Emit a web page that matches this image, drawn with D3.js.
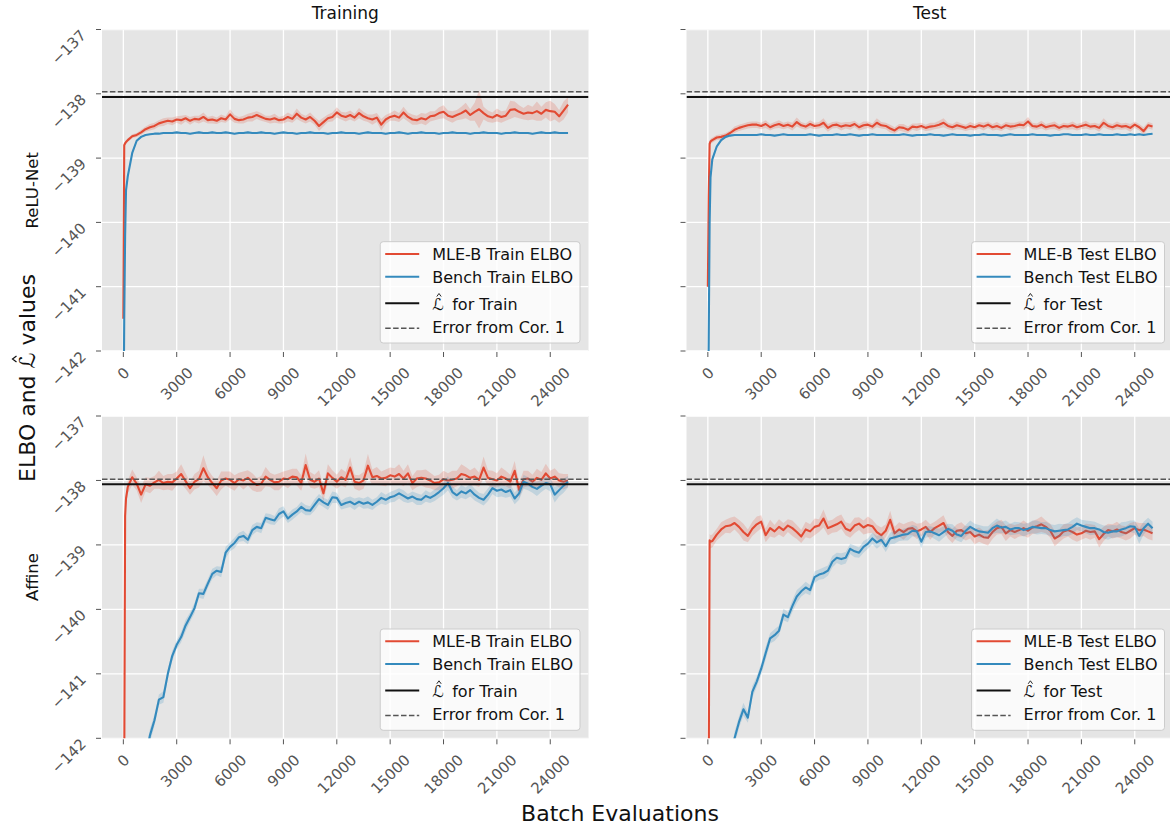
<!DOCTYPE html>
<html><head><meta charset="utf-8">
<script src="https://cdn.jsdelivr.net/npm/d3@7"></script>
<style>
body{margin:0;background:#fff}
svg{display:block}
text{font-family:"DejaVu Sans",sans-serif;white-space:pre}
</style>
</head><body>
<svg id="c" width="1170" height="828"></svg>
<script>
// ---------------- DATA ----------------
const steps = [0,50,100,150,
250,500,750,1000,1250,1500,1750,2000,2250,2500,
2750,3000,3250,3500,3750,4000,4250,4500,4750,5000,
5250,5500,5750,6000,6250,6500,6750,7000,7250,7500,
7750,8000,8250,8500,8750,9000,9250,9500,9750,10000,
10250,10500,10750,11000,11250,11500,11750,12000,12250,12500,
12750,13000,13250,13500,13750,14000,14250,14500,14750,15000,
15250,15500,15750,16000,16250,16500,16750,17000,17250,17500,
17750,18000,18250,18500,18750,19000,19250,19500,19750,20000,
20250,20500,20750,21000,21250,21500,21750,22000,22250,22500,
22750,23000,23250,23500,23750,24000,24250,24500,24750,25000];

const xTicks = [0,3000,6000,9000,12000,15000,18000,21000,24000];
const yTicks = [-142,-141,-140,-139,-138,-137];
const colTitles = ["Training","Test"];
const rowLabels = ["ReLU-Net","Affine"];

// ReLU-Net, Training
const reluTrainMle = [-141.5,-138.80,-138.77,-138.75,
-138.72,-138.66,-138.64,-138.60,-138.55,-138.52,-138.50,-138.46,-138.44,-138.42,
-138.43,-138.40,-138.41,-138.38,-138.42,-138.39,-138.40,-138.36,-138.41,-138.40,
-138.42,-138.38,-138.40,-138.32,-138.39,-138.41,-138.40,-138.37,-138.36,-138.33,
-138.36,-138.39,-138.40,-138.38,-138.41,-138.40,-138.36,-138.39,-138.31,-138.37,
-138.40,-138.36,-138.42,-138.50,-138.44,-138.38,-138.36,-138.29,-138.34,-138.36,
-138.33,-138.37,-138.30,-138.35,-138.38,-138.40,-138.37,-138.48,-138.40,-138.36,
-138.34,-138.37,-138.29,-138.36,-138.40,-138.41,-138.38,-138.40,-138.35,-138.34,
-138.30,-138.28,-138.34,-138.36,-138.33,-138.30,-138.26,-138.33,-138.28,-138.24,
-138.30,-138.35,-138.37,-138.33,-138.36,-138.34,-138.25,-138.24,-138.28,-138.31,
-138.29,-138.30,-138.27,-138.31,-138.25,-138.27,-138.28,-138.35,-138.26,-138.17];
const reluTrainMleSd = [0.05,0.04,0.03,0.03,
0.03,0.03,0.03,0.04,0.04,0.05,0.05,0.05,0.06,0.05,
0.06,0.05,0.07,0.05,0.06,0.05,0.06,0.07,0.05,0.06,
0.05,0.06,0.05,0.08,0.06,0.05,0.06,0.06,0.07,0.06,
0.06,0.05,0.06,0.07,0.05,0.06,0.07,0.06,0.08,0.06,
0.06,0.07,0.06,0.08,0.07,0.06,0.07,0.08,0.06,0.07,
0.07,0.06,0.08,0.07,0.06,0.08,0.07,0.09,0.07,0.06,
0.08,0.07,0.09,0.07,0.08,0.07,0.08,0.09,0.08,0.07,
0.09,0.10,0.08,0.09,0.08,0.10,0.12,0.09,0.14,0.30,
0.10,0.09,0.08,0.10,0.09,0.08,0.14,0.12,0.10,0.09,
0.12,0.10,0.15,0.11,0.12,0.16,0.12,0.10,0.14,0.12];
const reluTrainBench = [-143.5,-141.5,-140.2,-139.5,
-139.28,-138.92,-138.73,-138.67,-138.64,-138.63,-138.62,-138.62,-138.61,-138.61,
-138.61,-138.60,-138.61,-138.61,-138.62,-138.61,-138.60,-138.61,-138.61,-138.60,
-138.61,-138.61,-138.60,-138.61,-138.62,-138.61,-138.61,-138.60,-138.61,-138.61,
-138.60,-138.61,-138.61,-138.62,-138.61,-138.60,-138.61,-138.61,-138.62,-138.61,
-138.61,-138.60,-138.61,-138.61,-138.61,-138.62,-138.61,-138.61,-138.60,-138.61,
-138.61,-138.61,-138.62,-138.61,-138.60,-138.61,-138.61,-138.61,-138.62,-138.61,
-138.61,-138.60,-138.61,-138.62,-138.61,-138.61,-138.60,-138.61,-138.61,-138.61,
-138.62,-138.61,-138.61,-138.60,-138.61,-138.61,-138.61,-138.62,-138.61,-138.61,
-138.60,-138.61,-138.61,-138.61,-138.62,-138.61,-138.61,-138.60,-138.61,-138.61,
-138.61,-138.62,-138.61,-138.60,-138.61,-138.61,-138.60,-138.61,-138.61,-138.61];
const reluTrainBenchSd = [0.10,0.08,0.06,0.05,
0.04,0.03,0.02,0.015,0.012,0.01,0.01,0.01,0.01,0.01,
0.01,0.01,0.012,0.01,0.01,0.01,0.01,0.012,0.01,0.01,
0.01,0.01,0.01,0.012,0.01,0.01,0.01,0.01,0.01,0.012,
0.01,0.01,0.012,0.01,0.01,0.01,0.01,0.01,0.012,0.01,
0.01,0.012,0.01,0.01,0.01,0.01,0.012,0.01,0.01,0.01,
0.01,0.01,0.01,0.012,0.01,0.01,0.01,0.01,0.012,0.01,
0.012,0.01,0.01,0.01,0.01,0.012,0.01,0.01,0.01,0.01,
0.01,0.01,0.012,0.01,0.01,0.01,0.01,0.012,0.01,0.01,
0.01,0.012,0.01,0.01,0.01,0.01,0.01,0.01,0.012,0.01,
0.01,0.01,0.01,0.012,0.01,0.01,0.012,0.01,0.01,0.01];

// ReLU-Net, Test
const reluTestMle = [-141.0,-139.6,-138.78,-138.74,
-138.72,-138.68,-138.67,-138.65,-138.61,-138.56,-138.53,-138.51,-138.49,-138.48,
-138.48,-138.50,-138.47,-138.52,-138.49,-138.47,-138.50,-138.48,-138.51,-138.44,
-138.49,-138.51,-138.47,-138.50,-138.49,-138.45,-138.53,-138.49,-138.48,-138.51,
-138.49,-138.50,-138.47,-138.52,-138.49,-138.48,-138.51,-138.45,-138.49,-138.50,
-138.54,-138.57,-138.52,-138.53,-138.56,-138.51,-138.52,-138.50,-138.53,-138.51,
-138.50,-138.48,-138.45,-138.50,-138.52,-138.49,-138.51,-138.53,-138.50,-138.52,
-138.49,-138.51,-138.48,-138.52,-138.50,-138.53,-138.49,-138.51,-138.50,-138.48,
-138.49,-138.43,-138.50,-138.51,-138.48,-138.52,-138.50,-138.49,-138.53,-138.50,
-138.51,-138.49,-138.52,-138.50,-138.48,-138.51,-138.50,-138.53,-138.45,-138.50,
-138.52,-138.49,-138.51,-138.50,-138.53,-138.48,-138.52,-138.58,-138.49,-138.51];
const reluTestMleSd = [0.06,0.05,0.04,0.04,
0.04,0.04,0.04,0.04,0.04,0.05,0.05,0.05,0.05,0.05,
0.05,0.05,0.06,0.05,0.05,0.06,0.05,0.05,0.06,0.07,
0.05,0.05,0.06,0.05,0.05,0.07,0.06,0.05,0.05,0.06,
0.05,0.06,0.05,0.05,0.06,0.05,0.05,0.07,0.05,0.05,
0.06,0.05,0.05,0.06,0.05,0.05,0.06,0.05,0.05,0.06,
0.05,0.06,0.07,0.05,0.05,0.06,0.05,0.05,0.06,0.05,
0.05,0.06,0.05,0.05,0.06,0.05,0.05,0.06,0.05,0.05,
0.06,0.07,0.05,0.05,0.06,0.05,0.05,0.06,0.05,0.05,
0.05,0.06,0.05,0.05,0.06,0.05,0.05,0.06,0.07,0.05,
0.05,0.06,0.05,0.05,0.06,0.05,0.05,0.06,0.05,0.05];
const reluTestBench = [-143.5,-141.8,-140.0,-139.3,
-139.02,-138.82,-138.72,-138.67,-138.65,-138.64,-138.64,-138.64,-138.64,-138.64,
-138.64,-138.63,-138.64,-138.64,-138.65,-138.64,-138.63,-138.64,-138.64,-138.64,
-138.64,-138.64,-138.63,-138.64,-138.65,-138.64,-138.64,-138.64,-138.63,-138.64,
-138.64,-138.63,-138.64,-138.65,-138.64,-138.64,-138.63,-138.64,-138.64,-138.64,
-138.64,-138.64,-138.64,-138.63,-138.64,-138.65,-138.64,-138.64,-138.64,-138.63,
-138.64,-138.64,-138.65,-138.64,-138.63,-138.64,-138.64,-138.64,-138.65,-138.64,
-138.64,-138.63,-138.64,-138.64,-138.64,-138.65,-138.64,-138.63,-138.64,-138.64,
-138.64,-138.64,-138.63,-138.64,-138.64,-138.64,-138.65,-138.64,-138.64,-138.63,
-138.63,-138.64,-138.64,-138.64,-138.63,-138.64,-138.64,-138.63,-138.64,-138.64,
-138.64,-138.63,-138.64,-138.64,-138.63,-138.64,-138.63,-138.64,-138.63,-138.62];
const reluTestBenchSd = [0.10,0.08,0.06,0.05,
0.04,0.03,0.02,0.015,0.012,0.01,0.01,0.01,0.01,0.01,
0.01,0.01,0.01,0.012,0.01,0.01,0.01,0.01,0.01,0.01,
0.012,0.01,0.01,0.01,0.01,0.01,0.012,0.01,0.01,0.01,
0.01,0.01,0.01,0.01,0.012,0.01,0.01,0.01,0.01,0.01,
0.01,0.012,0.01,0.01,0.01,0.01,0.01,0.01,0.012,0.01,
0.01,0.01,0.01,0.01,0.01,0.012,0.01,0.01,0.01,0.01,
0.01,0.01,0.012,0.01,0.01,0.01,0.01,0.01,0.01,0.012,
0.01,0.01,0.01,0.01,0.012,0.01,0.01,0.01,0.01,0.01,
0.01,0.01,0.01,0.012,0.01,0.01,0.01,0.01,0.01,0.01,
0.012,0.01,0.01,0.01,0.01,0.01,0.012,0.01,0.01,0.01];

// Affine, Training
const affineTrainMle = [-146.0,-142.5,-138.55,-138.28,
-138.10,-137.95,-138.05,-138.22,-138.06,-138.08,-138.03,-137.99,-138.04,-138.02,
-138.03,-137.97,-137.90,-138.01,-138.12,-138.02,-137.98,-137.81,-137.95,-138.04,
-138.12,-138.00,-137.97,-137.99,-138.04,-137.98,-138.00,-137.96,-138.02,-138.07,
-138.05,-137.94,-137.99,-138.03,-138.02,-137.97,-137.98,-137.94,-137.95,-138.04,
-137.76,-137.99,-138.02,-137.97,-138.20,-137.89,-137.96,-138.02,-137.95,-137.99,
-137.80,-138.02,-138.04,-138.00,-137.77,-137.95,-137.93,-137.97,-137.96,-137.92,
-137.94,-137.90,-137.97,-137.89,-138.04,-137.97,-137.96,-137.97,-138.00,-138.04,
-138.03,-137.98,-138.00,-137.99,-137.97,-137.90,-137.92,-137.96,-137.94,-137.99,
-137.80,-137.96,-137.98,-138.00,-137.94,-137.97,-138.02,-137.85,-138.15,-137.98,
-137.97,-138.02,-137.96,-137.99,-137.89,-137.97,-137.94,-138.00,-138.02,-138.00];
const affineTrainMleSd = [0.10,0.10,0.10,0.10,
0.10,0.12,0.10,0.13,0.11,0.12,0.10,0.14,0.11,0.12,
0.13,0.11,0.15,0.12,0.10,0.12,0.13,0.20,0.12,0.11,
0.12,0.14,0.11,0.13,0.12,0.10,0.14,0.12,0.13,0.11,
0.12,0.15,0.11,0.12,0.13,0.11,0.14,0.12,0.13,0.12,
0.18,0.12,0.11,0.13,0.12,0.14,0.12,0.11,0.13,0.12,
0.16,0.11,0.12,0.13,0.18,0.12,0.14,0.11,0.13,0.12,
0.13,0.15,0.12,0.14,0.11,0.13,0.12,0.14,0.12,0.11,
0.12,0.13,0.11,0.14,0.12,0.15,0.13,0.12,0.14,0.11,
0.17,0.12,0.13,0.11,0.14,0.12,0.11,0.15,0.12,0.13,
0.12,0.11,0.14,0.12,0.15,0.12,0.13,0.11,0.12,0.10];
const affineTrainBench = [-144.5,-144.4,-144.3,-144.2,
-143.9,-143.5,-143.1,-142.7,-142.3,-141.95,-141.72,-141.40,-141.36,-141.00,
-140.72,-140.55,-140.43,-140.25,-140.12,-139.98,-139.75,-139.76,-139.60,-139.45,
-139.40,-139.42,-139.12,-139.03,-138.97,-138.88,-138.86,-138.92,-138.77,-138.72,
-138.74,-138.58,-138.60,-138.62,-138.52,-138.48,-138.59,-138.53,-138.48,-138.41,
-138.46,-138.47,-138.38,-138.29,-138.34,-138.38,-138.26,-138.27,-138.38,-138.35,
-138.33,-138.37,-138.33,-138.36,-138.34,-138.38,-138.33,-138.27,-138.30,-138.26,
-138.24,-138.20,-138.24,-138.28,-138.25,-138.29,-138.30,-138.24,-138.27,-138.23,
-138.18,-138.12,-138.04,-138.18,-138.23,-138.17,-138.20,-138.15,-138.22,-138.27,
-138.30,-138.22,-138.12,-138.16,-138.14,-138.18,-138.15,-138.28,-138.20,-138.02,
-138.05,-138.10,-138.13,-138.08,-138.04,-138.06,-138.22,-138.15,-138.08,-138.02];
const affineTrainBenchSd = [0.10,0.10,0.10,0.10,
0.10,0.10,0.10,0.10,0.10,0.10,0.09,0.08,0.09,0.08,
0.08,0.07,0.08,0.09,0.07,0.08,0.07,0.08,0.07,0.08,
0.07,0.08,0.09,0.07,0.08,0.07,0.08,0.07,0.08,0.07,
0.08,0.07,0.08,0.07,0.09,0.08,0.07,0.08,0.07,0.08,
0.08,0.07,0.09,0.08,0.07,0.08,0.09,0.08,0.07,0.08,
0.08,0.09,0.07,0.08,0.09,0.08,0.07,0.09,0.08,0.08,
0.09,0.08,0.09,0.07,0.08,0.09,0.08,0.09,0.08,0.09,
0.09,0.10,0.11,0.09,0.08,0.10,0.09,0.10,0.09,0.08,
0.09,0.10,0.09,0.10,0.11,0.09,0.10,0.09,0.10,0.11,
0.10,0.09,0.11,0.10,0.09,0.11,0.12,0.10,0.11,0.09];

// Affine, Test
const affineTestMle = [-146.0,-142.5,-138.93,-138.95,
-138.94,-138.84,-138.76,-138.71,-138.70,-138.66,-138.72,-138.80,-138.86,-138.75,
-138.68,-138.64,-138.85,-138.74,-138.79,-138.72,-138.77,-138.70,-138.74,-138.80,
-138.87,-138.76,-138.79,-138.72,-138.70,-138.59,-138.74,-138.71,-138.68,-138.64,
-138.75,-138.78,-138.70,-138.67,-138.73,-138.69,-138.71,-138.80,-138.85,-138.78,
-138.61,-138.82,-138.76,-138.80,-138.75,-138.74,-138.79,-138.76,-138.72,-138.80,
-138.74,-138.70,-138.66,-138.80,-138.86,-138.78,-138.77,-138.82,-138.80,-138.87,
-138.84,-138.88,-138.89,-138.80,-138.74,-138.72,-138.82,-138.77,-138.80,-138.77,
-138.74,-138.78,-138.73,-138.71,-138.68,-138.72,-138.78,-138.90,-138.86,-138.79,
-138.77,-138.80,-138.84,-138.82,-138.78,-138.80,-138.79,-138.91,-138.83,-138.77,
-138.79,-138.76,-138.80,-138.82,-138.78,-138.74,-138.77,-138.76,-138.79,-138.82];
const affineTestMleSd = [0.10,0.10,0.10,0.10,
0.10,0.09,0.11,0.10,0.12,0.10,0.11,0.13,0.10,0.11,
0.12,0.10,0.11,0.13,0.10,0.12,0.11,0.10,0.12,0.11,
0.10,0.12,0.11,0.13,0.10,0.14,0.11,0.10,0.12,0.11,
0.10,0.11,0.12,0.10,0.11,0.13,0.10,0.11,0.12,0.10,
0.14,0.10,0.11,0.12,0.10,0.11,0.12,0.10,0.11,0.12,
0.10,0.11,0.12,0.10,0.11,0.10,0.12,0.11,0.10,0.12,
0.11,0.10,0.12,0.11,0.10,0.11,0.12,0.10,0.11,0.10,
0.12,0.11,0.10,0.11,0.12,0.10,0.11,0.12,0.10,0.11,
0.10,0.12,0.11,0.10,0.11,0.12,0.10,0.13,0.11,0.10,
0.11,0.12,0.10,0.11,0.12,0.10,0.11,0.10,0.12,0.11];
const affineTestBench = [-144.8,-144.7,-144.6,-144.5,
-144.2,-143.8,-143.4,-143.0,-142.5,-142.0,-141.75,-141.55,-141.68,-141.28,
-141.12,-140.92,-140.68,-140.45,-140.40,-140.33,-140.08,-140.12,-139.95,-139.80,
-139.72,-139.66,-139.70,-139.50,-139.46,-139.44,-139.40,-139.26,-139.20,-139.22,
-139.20,-139.06,-139.10,-139.12,-139.03,-138.98,-138.90,-138.96,-138.92,-139.02,
-138.90,-138.88,-138.86,-138.84,-138.83,-138.78,-138.79,-138.95,-138.80,-138.79,
-138.82,-138.85,-138.80,-138.75,-138.78,-138.84,-138.86,-138.78,-138.72,-138.76,
-138.79,-138.80,-138.81,-138.74,-138.70,-138.73,-138.72,-138.76,-138.74,-138.74,
-138.77,-138.75,-138.72,-138.73,-138.74,-138.74,-138.77,-138.79,-138.78,-138.77,
-138.76,-138.72,-138.67,-138.70,-138.72,-138.74,-138.74,-138.76,-138.80,-138.81,
-138.79,-138.79,-138.76,-138.74,-138.71,-138.72,-138.86,-138.74,-138.67,-138.74];
const affineTestBenchSd = [0.10,0.10,0.10,0.10,
0.10,0.10,0.10,0.10,0.10,0.10,0.09,0.10,0.08,0.09,
0.08,0.09,0.10,0.08,0.09,0.08,0.09,0.08,0.09,0.10,
0.08,0.09,0.08,0.09,0.08,0.09,0.08,0.09,0.08,0.09,
0.09,0.08,0.09,0.08,0.09,0.08,0.09,0.10,0.08,0.09,
0.09,0.10,0.08,0.09,0.10,0.09,0.08,0.10,0.09,0.08,
0.09,0.10,0.09,0.08,0.10,0.09,0.10,0.09,0.10,0.09,
0.10,0.09,0.10,0.09,0.11,0.09,0.10,0.09,0.10,0.09,
0.10,0.09,0.10,0.11,0.09,0.10,0.09,0.10,0.11,0.09,
0.10,0.11,0.10,0.09,0.10,0.11,0.10,0.09,0.10,0.11,
0.10,0.09,0.11,0.10,0.09,0.10,0.12,0.10,0.09,0.10];

// reference levels: L-hat and L-hat + error from Cor. 1
const lhatLevels = [-138.05, -138.05, -138.06, -138.06];
const corLevels  = [-137.97, -137.97, -137.98, -137.98];

const legendTrain = ["MLE-B Train ELBO","Bench Train ELBO","for Train","Error from Cor. 1"];
const legendTest  = ["MLE-B Test ELBO","Bench Test ELBO","for Test","Error from Cor. 1"];

// ---------------- DRAWING ----------------
const svg = d3.select("#c");
const BG = "#E5E5E5", RED = "#E24A33", BLUE = "#348ABD", TICKC = "#555555";
const xDomain = [-1200, 26150], yDomain = [-142, -137];
const colX = [[102, 588.5], [686.5, 1173]];
const rowY = [[29.5, 351], [416, 738.3]];
const TF = 15; // tick font
const fmt = d3.format("d");

const panels = [
  {r:0,c:0, mle:reluTrainMle, mleSd:reluTrainMleSd, bench:reluTrainBench, benchSd:reluTrainBenchSd, lhat:lhatLevels[0], cor:corLevels[0], leg:legendTrain},
  {r:0,c:1, mle:reluTestMle, mleSd:reluTestMleSd, bench:reluTestBench, benchSd:reluTestBenchSd, lhat:lhatLevels[1], cor:corLevels[1], leg:legendTest},
  {r:1,c:0, mle:affineTrainMle, mleSd:affineTrainMleSd, bench:affineTrainBench, benchSd:affineTrainBenchSd, lhat:lhatLevels[2], cor:corLevels[2], leg:legendTrain},
  {r:1,c:1, mle:affineTestMle, mleSd:affineTestMleSd, bench:affineTestBench, benchSd:affineTestBenchSd, lhat:lhatLevels[3], cor:corLevels[3], leg:legendTest}
];

const defs = svg.append("defs");

// small circumflex accent drawn as a path
function hat(sel, cx, yBase, half, rise, sw) {
  sel.append("path")
    .attr("d", `M${cx - half},${yBase} L${cx},${yBase - rise} L${cx + half},${yBase}`)
    .attr("fill", "none").attr("stroke", "#111").attr("stroke-width", sw)
    .attr("stroke-linejoin", "miter");
}

panels.forEach((p, i) => {
  const [x0, x1] = colX[p.c], [y0, y1] = rowY[p.r];
  const x = d3.scaleLinear().domain(xDomain).range([x0, x1]);
  const y = d3.scaleLinear().domain(yDomain).range([y1, y0]);
  const g = svg.append("g");
  const cid = "clip" + i;
  defs.append("clipPath").attr("id", cid).append("rect")
    .attr("x", x0).attr("y", y0).attr("width", x1 - x0).attr("height", y1 - y0);

  g.append("rect").attr("x", x0).attr("y", y0).attr("width", x1 - x0).attr("height", y1 - y0).attr("fill", BG);

  // grid
  const grid = g.append("g").attr("clip-path", `url(#${cid})`);
  grid.selectAll(".gx").data(xTicks).join("line")
    .attr("x1", d => x(d)).attr("x2", d => x(d)).attr("y1", y0).attr("y2", y1)
    .attr("stroke", "#fff").attr("stroke-width", 1.3);
  grid.selectAll(".gy").data(yTicks).join("line")
    .attr("y1", d => y(d)).attr("y2", d => y(d)).attr("x1", x0).attr("x2", x1)
    .attr("stroke", "#fff").attr("stroke-width", 1.3);

  // tick marks
  g.selectAll(".tx").data(xTicks).join("line")
    .attr("x1", d => x(d)).attr("x2", d => x(d)).attr("y1", y1 + 1).attr("y2", y1 + 6)
    .attr("stroke", TICKC).attr("stroke-width", 1);
  g.selectAll(".ty").data(yTicks).join("line")
    .attr("y1", d => y(d)).attr("y2", d => y(d)).attr("x1", x0 - 6).attr("x2", x0 - 1)
    .attr("stroke", TICKC).attr("stroke-width", 1);

  // x tick labels (rotated 45, centred under tick)
  const h = 0.73 * TF;
  xTicks.forEach(v => {
    const t = g.append("text").text(fmt(v)).attr("font-size", TF).attr("fill", TICKC).attr("text-anchor", "middle");
    const w = t.node().getComputedTextLength();
    const half = (w + h) / (2 * Math.SQRT2);
    const cx = x(v), cy = y1 + 15 + half;
    t.attr("transform", `translate(${cx + 0.7071 * h / 2},${cy + 0.7071 * h / 2}) rotate(-45)`);
  });
  // y tick labels only in first column
  if (p.c === 0) {
    yTicks.forEach(v => {
      g.append("text").text(fmt(v)).attr("font-size", TF).attr("fill", TICKC).attr("text-anchor", "end")
        .attr("transform", `translate(${x0 - 15},${y(v) + 0.7071 * h - 1}) rotate(-45)`);
    });
  }

  const plot = g.append("g").attr("clip-path", `url(#${cid})`);
  const band = (vals, sd) => d3.area()
    .x((d, k) => x(steps[k])).y0((d, k) => y(vals[k] - sd[k])).y1((d, k) => y(vals[k] + sd[k]))(vals);
  const line = vals => d3.line().x((d, k) => x(steps[k])).y(d => y(d))(vals);

  plot.append("path").attr("d", band(p.mle, p.mleSd)).attr("fill", RED).attr("fill-opacity", 0.2);
  plot.append("path").attr("d", line(p.mle)).attr("fill", "none").attr("stroke", RED).attr("stroke-width", 2.1).attr("stroke-linejoin", "round");
  plot.append("path").attr("d", band(p.bench, p.benchSd)).attr("fill", BLUE).attr("fill-opacity", 0.2);
  plot.append("path").attr("d", line(p.bench)).attr("fill", "none").attr("stroke", BLUE).attr("stroke-width", 2.1).attr("stroke-linejoin", "round");

  plot.append("line").attr("x1", x0).attr("x2", x1).attr("y1", y(p.lhat)).attr("y2", y(p.lhat))
    .attr("stroke", "#111").attr("stroke-width", 2);
  plot.append("line").attr("x1", x0).attr("x2", x1).attr("y1", y(p.cor)).attr("y2", y(p.cor))
    .attr("stroke", "#555").attr("stroke-width", 1.5).attr("stroke-dasharray", "5.5,2.4");

  // legend
  const LF = 16;
  const lg = svg.append("g");
  const box = lg.append("rect").attr("rx", 3).attr("ry", 3)
    .attr("fill", "#fff").attr("fill-opacity", 0.8).attr("stroke", "#CCCCCC").attr("stroke-width", 1);
  const boxH = 101.3, boxT = y1 - 8 - boxH;
  const texts = [];
  const rowBase = [17.8, 41.3, 67.8, 91.3], rowLine = [12.3, 35, 61.6, 86.6];
  const handles = [{c: RED, w: 2.1, d: null}, {c: BLUE, w: 2.1, d: null}, {c: "#111", w: 2, d: null}, {c: "#555", w: 1.5, d: "5.5,2.4"}];
  let maxW = 0;
  p.leg.forEach((s, k) => {
    const t = lg.append("text").text(s).attr("font-size", LF).attr("fill", "#111").attr("y", boxT + rowBase[k]);
    texts.push(t);
    let w = t.node().getComputedTextLength();
    if (k === 2) w += 20;
    maxW = Math.max(maxW, w);
  });
  const boxW = 52 + maxW + 7;
  const boxL = x1 - 8.5 - boxW;
  box.attr("x", boxL).attr("y", boxT).attr("width", boxW).attr("height", boxH);
  texts.forEach((t, k) => t.attr("x", boxL + 52 + (k === 2 ? 20 : 0)));
  handles.forEach((hd, k) => {
    const l = lg.append("line").attr("x1", boxL + 5).attr("x2", boxL + 39)
      .attr("y1", boxT + rowLine[k]).attr("y2", boxT + rowLine[k])
      .attr("stroke", hd.c).attr("stroke-width", hd.w);
    if (hd.d) l.attr("stroke-dasharray", hd.d);
  });
  // L-hat symbol
  const tl = lg.append("text").text("ℒ").attr("font-size", LF).attr("fill", "#111")
    .attr("x", boxL + 52).attr("y", boxT + rowBase[2]);
  const wl = tl.node().getComputedTextLength();
  hat(lg, boxL + 52 + wl / 2 + 1, boxT + rowBase[2] - 13, 2.2, 3, 0.9);
});

// column titles
colTitles.forEach((s, c) => {
  svg.append("text").text(s).attr("font-size", 17).attr("fill", "#111").attr("text-anchor", "middle")
    .attr("x", (colX[c][0] + colX[c][1]) / 2).attr("y", 19);
});
// row labels
rowLabels.forEach((s, r) => {
  const cy = (rowY[r][0] + rowY[r][1]) / 2;
  svg.append("text").text(s).attr("font-size", 16.5).attr("fill", "#111").attr("text-anchor", "middle")
    .attr("transform", `translate(38,${cy}) rotate(-90)`);
});

// shared y label "ELBO and L-hat values"
{
  const FS = 22;
  const gl = svg.append("g").attr("transform", "translate(34.5,378) rotate(-90)");
  const t1 = gl.append("text").text("ELBO and\u00a0").attr("font-size", FS).attr("fill", "#111");
  const tL = gl.append("text").text("ℒ").attr("font-size", FS).attr("fill", "#111");
  const t2 = gl.append("text").text("\u00a0values").attr("font-size", FS).attr("fill", "#111");
  const w1 = t1.node().getComputedTextLength(), wL = tL.node().getComputedTextLength(), w2 = t2.node().getComputedTextLength();
  const start = -(w1 + wL + w2) / 2;
  t1.attr("x", start);
  tL.attr("x", start + w1);
  t2.attr("x", start + w1 + wL);
  hat(gl, start + w1 + wL / 2 + 1.5, -18, 3, 4, 1.2);
}
// shared x label
svg.append("text").text("Batch Evaluations").attr("font-size", 22).attr("fill", "#111")
  .attr("text-anchor", "middle").attr("x", 620).attr("y", 821);
</script>
</body></html>
